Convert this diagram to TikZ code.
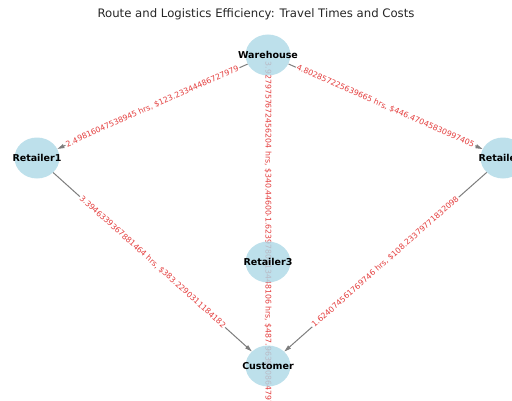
\documentclass[tikz,border=0pt]{standalone}
\usepackage{fontspec}
\setmainfont{DejaVu Sans}
\usetikzlibrary{arrows.meta,shapes.geometric}
\pgfdeclarelayer{edges}
\pgfsetlayers{edges,main}
\definecolor{nodeblue}{RGB}{173,216,230}
\definecolor{labelred}{RGB}{228,62,62}
\definecolor{edgegray}{RGB}{125,125,125}
\tikzset{
  placetext/.style={text opacity=1, text=black, font=\fontsize{9.5}{11}\selectfont\bfseries},
  place/.style={ellipse, minimum width=45pt, minimum height=41pt, inner sep=0pt, fill=nodeblue, fill opacity=0.8,
    label={[placetext]center:#1}},
  route/.style={draw=edgegray, line width=1pt, -{Triangle[length=7pt,width=4pt]}},
  cost/.style={fill=white, inner sep=1pt, text=labelred, font=\fontsize{7.8}{9}\selectfont}
}

\begin{document}
\begin{tikzpicture}[x=1pt,y=1pt]
\useasboundingbox (0,0) rectangle (512,400);
\node[font=\fontsize{11.7}{14}\selectfont, text=black!85] (title) at (256,386) {Route and Logistics Efficiency: Travel Times and Costs};
% locations
\node[place=Warehouse] (warehouse) at (268,345) {};
\node[place=Retailer1] (retailer1) at (37,242) {};
\node[place=Retailer2] (retailer2) at (503,242) {};
\node[place=Retailer3] (retailer3) at (268,138) {};
\node[place=Customer] (customer) at (268,34) {};
% routes with time and cost
\begin{pgfonlayer}{edges}
\draw[route] (warehouse) -- node[cost, sloped] {2.49816047538945 hrs, \$123.23344486727979} (retailer1);
\draw[route] (warehouse) -- node[cost, sloped] {4.802857225639665 hrs, \$446.47045830997405} (retailer2);
\draw[route] (warehouse) -- node[cost, rotate=-90] {3.9279757672456204 hrs, \$340.4460046972835} (retailer3);
\draw[route] (retailer1) -- node[cost, sloped] {3.3946339367881464 hrs, \$383.2290311184182} (customer);
\draw[route] (retailer2) -- node[cost, sloped] {1.624074561769746 hrs, \$108.23379771832098} (customer);
\draw[route] (retailer3) -- node[cost, rotate=-90] {1.6239780813448106 hrs, \$487.9639408647977} (customer);
\end{pgfonlayer}
\end{tikzpicture}
\end{document}
